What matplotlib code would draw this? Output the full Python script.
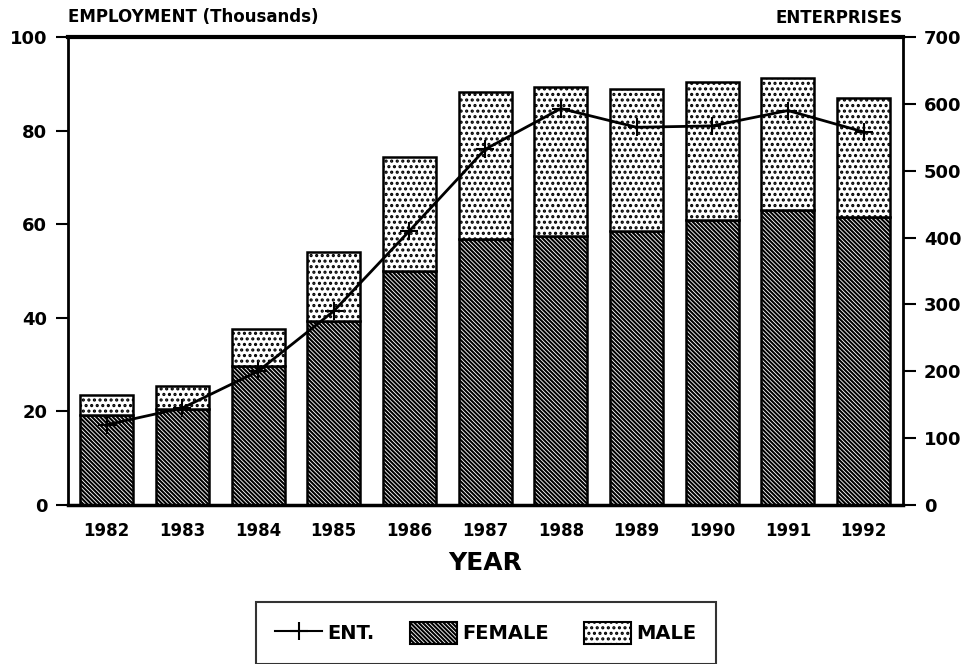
import matplotlib
matplotlib.use("Agg")
import matplotlib.pyplot as plt
from matplotlib.lines import Line2D
from matplotlib.patches import Patch

years = ["1982", "1983", "1984", "1985", "1986", "1987", "1988", "1989", "1990", "1991", "1992"]
female = [19.2, 20.5, 29.6, 39.3, 49.9, 56.8, 57.5, 58.5, 60.9, 63.0, 61.6]
total = [23.4, 25.5, 37.6, 54.1, 74.4, 88.3, 89.4, 88.9, 90.3, 91.2, 87.0]
male = [t - f for t, f in zip(total, female)]
enterprises = [120, 145, 200, 290, 410, 532, 593, 565, 567, 590, 558]

plt.rcParams['font.family'] = ['DejaVu Sans']
plt.rcParams['font.weight'] = 'bold'
plt.rcParams['hatch.linewidth'] = 1.5

FEMALE_HATCH = '\\' * 8
MALE_HATCH = '...'

fig = plt.figure(figsize=(9.7, 6.64), dpi=100)
ax = fig.add_axes([68/970, 1 - 505/664, (903 - 68)/970, (505 - 37)/664])
x = list(range(len(years)))
w = 0.70
ax.bar(x, female, width=w, color='white', edgecolor='black', linewidth=1.8,
       hatch=FEMALE_HATCH, label='FEMALE', zorder=2)
ax.bar(x, male, width=w, bottom=female, color='white', edgecolor='black',
       linewidth=1.8, hatch=MALE_HATCH, label='MALE', zorder=2)

ax.set_xlim(-0.51, 10.52)
ax.set_ylim(0, 100)
ax.set_yticks([0, 20, 40, 60, 80, 100])
ax.set_xticks(x)
ax.set_xticklabels(years, fontsize=12, fontweight='bold')
ax.tick_params(axis='x', length=0, pad=12)
ax.tick_params(axis='y', direction='out', length=9, width=1.5, pad=6, labelsize=13)
for lbl in ax.get_yticklabels():
    lbl.set_fontweight('bold')
ax.spines['top'].set_linewidth(3)
ax.spines['left'].set_linewidth(2)
ax.spines['right'].set_linewidth(2)
ax.spines['bottom'].set_linewidth(2.5)
ax.set_xlabel('YEAR', fontsize=18, fontweight='bold', labelpad=8)

ax2 = ax.twinx()
ax2.plot(x, enterprises, color='black', linewidth=2, marker='+', markersize=13,
         markeredgewidth=1.5, label='ENT.', zorder=5)
ax2.set_ylim(0, 700)
ax2.set_yticks([0, 100, 200, 300, 400, 500, 600, 700])
ax2.tick_params(axis='y', direction='out', length=9, width=1.5, pad=6, labelsize=13)
for lbl in ax2.get_yticklabels():
    lbl.set_fontweight('bold')
for s in ax2.spines.values():
    s.set_visible(False)

fig.text(68/970, 1 - 17/664, 'EMPLOYMENT (Thousands)', fontsize=12,
         fontweight='bold', ha='left', va='center')
fig.text(903/970, 1 - 18/664, 'ENTERPRISES', fontsize=12,
         fontweight='bold', ha='right', va='center')

handles = [Line2D([0], [0], color='black', linewidth=1.5, marker='+', markersize=13,
                  markeredgewidth=1.5),
           Patch(facecolor='white', edgecolor='black', hatch=FEMALE_HATCH, linewidth=1.5),
           Patch(facecolor='white', edgecolor='black', hatch=MALE_HATCH, linewidth=1.5)]
labels = ['ENT.', 'FEMALE', 'MALE']
leg = fig.legend(handles, labels, loc='center', bbox_to_anchor=(486/970, 1 - 633/664),
                 ncol=3, frameon=True, fancybox=False, edgecolor='black',
                 prop={'weight': 'bold', 'size': 14}, handlelength=2.4,
                 handleheight=1.4, columnspacing=1.8, borderpad=1.0, handletextpad=0.3,
                 borderaxespad=0)
leg.get_frame().set_linewidth(1.5)

fig.savefig('out.png', dpi=100)
